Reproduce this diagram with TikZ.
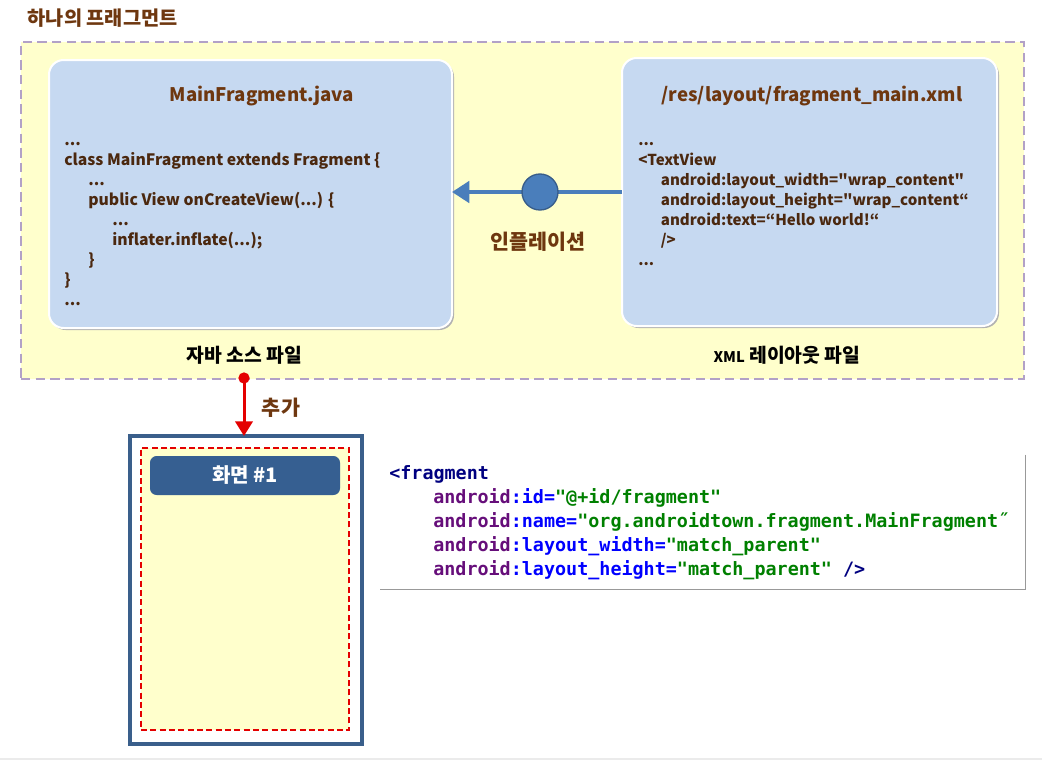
\documentclass[tikz,border=0pt]{standalone}
\usepackage{fontspec}
\setmainfont{Noto Sans CJK KR}[Ligatures=TeXOff]
\setmonofont{DejaVu Sans Mono}
\usetikzlibrary{arrows.meta,positioning,shadows}
\definecolor{framefill}{RGB}{255,255,204}
\definecolor{framedash}{RGB}{178,161,199}
\definecolor{boxfill}{RGB}{198,217,241}
\definecolor{titlebrown}{RGB}{110,55,15}
\definecolor{codebrown}{RGB}{75,40,15}
\definecolor{arrowblue}{RGB}{74,126,187}
\definecolor{circleedge}{RGB}{56,93,138}
\definecolor{phoneblue}{RGB}{58,95,139}
\definecolor{barblue}{RGB}{54,95,145}
\definecolor{addred}{RGB}{228,0,0}
\definecolor{xmltag}{RGB}{0,0,128}
\definecolor{xmlns}{RGB}{102,14,122}
\definecolor{xmlattr}{RGB}{0,0,255}
\definecolor{xmlval}{RGB}{0,128,0}
\tikzset{
  fragframe/.style={draw=framedash,fill=framefill,line width=2pt,dash pattern=on 7pt off 4pt,inner sep=0pt,outer sep=0pt},
  srcbox/.style={draw=white,line width=1.5pt,fill=boxfill,rounded corners=11pt,inner sep=0pt,outer sep=0pt,
    drop shadow={shadow xshift=1.5pt,shadow yshift=-1.5pt,fill=black!30,opacity=1}},
  boxtitle/.style={text=titlebrown,font=\bfseries\fontsize{14}{16}\selectfont},
  codetext/.style={text=codebrown,align=left,inner sep=0pt,font=\bfseries\fontsize{11.8}{15}\selectfont},
  caption/.style={font=\bfseries\fontsize{14.5}{16}\selectfont},
  brownlabel/.style={text=titlebrown,font=\bfseries\fontsize{15.5}{17}\selectfont},
  blueflow/.style={draw=arrowblue,line width=3pt,-{Triangle[length=13pt,width=16pt]}},
  inflatedot/.style={circle,draw=circleedge,line width=1pt,fill=arrowblue,minimum size=27pt,inner sep=0pt},
  addflow/.style={draw=addred,line width=2.25pt,-{Triangle[length=11pt,width=13pt]}},
  adddot/.style={circle,fill=addred,minimum size=8.5pt,inner sep=0pt},
  phonebox/.style={draw=phoneblue,fill=white,line width=3pt,inner sep=0pt,outer sep=0pt},
  screenbox/.style={draw=addred,fill=framefill,line width=2pt,dash pattern=on 4.5pt off 2.5pt,inner sep=0pt,outer sep=0pt},
  screenbar/.style={fill=barblue,rounded corners=5pt,text=white,inner sep=0pt,font=\bfseries\fontsize{15}{17}\selectfont},
  xmlcode/.style={align=left,inner sep=0pt,font=\ttfamily\bfseries\fontsize{13.8}{18}\selectfont},
}
\newcommand{\ns}{\textcolor{xmlns}{android}}
\begin{document}
\begin{tikzpicture}[x=0.75pt,y=-0.75pt]
\useasboundingbox (0,0) rectangle (1042,761);
%% fragment frame
\node[anchor=west,text=titlebrown,font=\bfseries\fontsize{14.8}{16}\selectfont] (fragtitle) at (23,18) {하나의 프래그먼트};
\node[fragframe,minimum width=752.25pt,minimum height=252.75pt] (fragframe) at (522.5,210.5) {};
%% source boxes
\node[srcbox,minimum width=302.25pt,minimum height=201pt] (javabox) at (250.5,194) {};
\node[srcbox,minimum width=281.25pt,minimum height=201pt] (xmlbox) at (809.5,192) {};
\node[boxtitle] (javatitle) at (262,96) {MainFragment.java};
\node[boxtitle] (xmltitle) at (812,96) {/res/layout/fragment\_main.xml};
\node[codetext,anchor=base west] (javacode) at (64,305) {...\\
class MainFragment extends Fragment \{\\
\hspace*{18pt}...\\
\hspace*{18pt}public View onCreateView(...) \{\\
\hspace*{36pt}...\\
\hspace*{36pt}inflater.inflate(...);\\
\hspace*{18pt}\}\\
\}\\
...};
\node[codetext,anchor=base west,font=\bfseries\fontsize{11.3}{15}\selectfont] (xmlcode) at (638,265) {...\\
<TextView\\
\hspace*{17pt}android:layout\_width="wrap\_content"\\
\hspace*{17pt}android:layout\_height="wrap\_content“\\
\hspace*{17pt}android:text=“Hello world!“\\
\hspace*{17pt}/>\\
...};
\node[caption] (javacap) at (244,355) {자바 소스 파일};
\node[caption] (xmlcap) at (787,355) {{\fontsize{11}{12}\selectfont XML} 레이아웃 파일};
%% inflation
\draw[blueflow] (xmlbox.west) -- (xmlbox.west -| javabox.east);
\node[inflatedot] (inflatepoint) at (540,192) {};
\node[brownlabel] (inflatelabel) at (538,242) {인플레이션};
%% screen
\node[phonebox,minimum width=174pt,minimum height=231pt] (phone) at (246,590) {};
\node[screenbox,minimum width=156pt,minimum height=211.5pt] (screen) at (245,589) {};
\node[screenbar,minimum width=142.5pt,minimum height=29.25pt] (screenbar) at (245,475.5) {화면 \#1};
\node[adddot] (addpoint) at (244,378) {};
\draw[addflow] (addpoint.center) -- (addpoint |- phone.north);
\node[brownlabel] (addlabel) at (281,408) {추가};
%% layout code
\node[minimum width=483.75pt,minimum height=100.5pt,inner sep=0pt] (codebox) at (702.5,522) {};
\draw[black!40,line width=1pt] (codebox.north east) -- (codebox.south east) -- (codebox.south west);
\node[xmlcode,anchor=base west] (fragcode) at (389,575) {\textcolor{xmltag}{<fragment}\\
\hspace*{33pt}\ns\textcolor{xmlattr}{:id=}\textcolor{xmlval}{"@+id/fragment"}\\
\hspace*{33pt}\ns\textcolor{xmlattr}{:name=}\textcolor{xmlval}{"org.androidtown.fragment.MainFragment˝}\\
\hspace*{33pt}\ns\textcolor{xmlattr}{:layout\_width=}\textcolor{xmlval}{"match\_parent"}\\
\hspace*{33pt}\ns\textcolor{xmlattr}{:layout\_height=}\textcolor{xmlval}{"match\_parent"} \textcolor{xmltag}{/>}};
\draw[black!8,line width=1.5pt] (0,759) -- (1042,759);
%
\end{tikzpicture}
\end{document}
